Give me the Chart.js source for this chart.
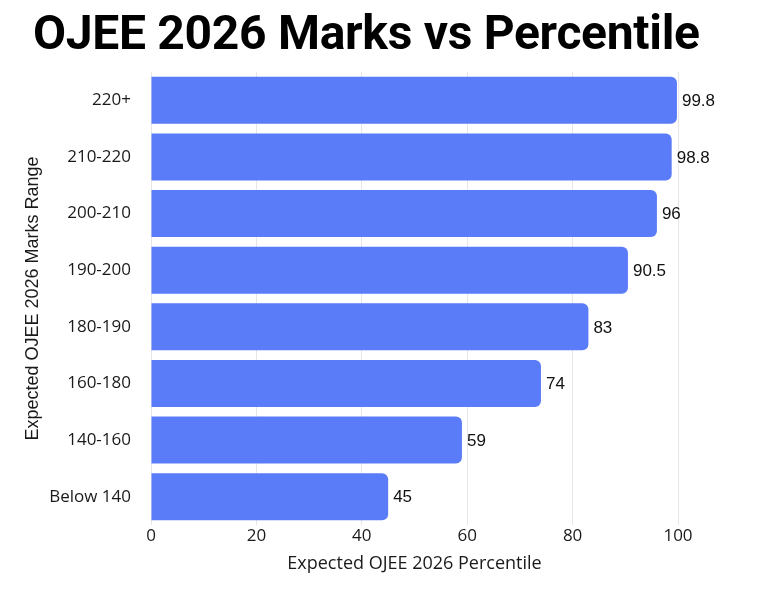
<!DOCTYPE html>
<html><head><meta charset="utf-8">
<script src="https://cdn.jsdelivr.net/npm/chart.js@4/dist/chart.umd.min.js"></script>
<style>
html,body{margin:0;padding:0;background:#fff;}
#wrap{position:relative;width:772px;height:591px;}
#title{position:absolute;left:33px;top:4px;margin:0;font-family:Roboto,"Liberation Sans",sans-serif;font-weight:bold;font-size:48px;line-height:57px;color:#000;white-space:nowrap;letter-spacing:-0.3px;}
canvas{position:absolute;left:0;top:0;}
</style></head>
<body><div id="wrap"><canvas id="c" width="772" height="591"></canvas><h1 id="title">OJEE 2026 Marks vs Percentile</h1></div>
<script>
const categories = ["220+","210-220","200-210","190-200","180-190","160-180","140-160","Below 140"];
const percentiles = [99.8,98.8,96,90.5,83,74,59,45];
const xTicks = [0,20,40,60,80,100];

const valueLabels = {
  id:'valueLabels',
  afterDatasetsDraw(chart){
    const ctx = chart.ctx;
    const meta = chart.getDatasetMeta(0);
    ctx.save();
    ctx.font = '17px "Liberation Sans", Arial, sans-serif';
    ctx.fillStyle = '#111';
    ctx.textBaseline = 'middle';
    ctx.textAlign = 'left';
    meta.data.forEach((bar,i)=>{
      ctx.fillText(String(percentiles[i]), bar.x + 5, bar.y + 1);
    });
    ctx.restore();
  }
};

const PAD_L = 22, PAD_B = 14;
new Chart(document.getElementById('c'), {
  type:'bar',
  data:{labels:categories, datasets:[{data:percentiles, backgroundColor:'#5a7cf9', borderRadius:{topRight:6,bottomRight:6,topLeft:0,bottomLeft:0}, borderSkipped:false, barPercentage:0.83, categoryPercentage:1}]},
  options:{
    indexAxis:'y', responsive:false, animation:false,
    layout:{padding:{top:72,left:PAD_L,right:94,bottom:PAD_B}},
    plugins:{legend:{display:false}, tooltip:{enabled:false}},
    scales:{
      x:{min:0,max:100,
        afterBuildTicks(axis){axis.ticks = xTicks.map(v=>({value:v}));},
        afterFit(s){ s.height = 591 - PAD_B - 525; },
        grid:{color:'#e6e6e6', drawTicks:false}, border:{display:false},
        ticks:{color:'#1a1a1a', font:{family:'"Open Sans", sans-serif', size:17}, padding:1},
        title:{display:true, text:'Expected OJEE 2026 Percentile', color:'#1a1a1a', font:{family:'"Open Sans", sans-serif', size:18}, padding:{top:0,bottom:2}}
      },
      y:{
        afterFit(s){ s.width = 151 - PAD_L; },
        grid:{display:false}, border:{display:false},
        ticks:{color:'#1a1a1a', font:{family:'"Open Sans", sans-serif', size:17}, padding:12},
        title:{display:true, text:'Expected OJEE 2026 Marks Range', color:'#1a1a1a', font:{family:'"Liberation Sans", Arial, sans-serif', size:18}, padding:{top:0,bottom:0}}
      }
    }
  },
  plugins:[valueLabels]
});
</script></body></html>
